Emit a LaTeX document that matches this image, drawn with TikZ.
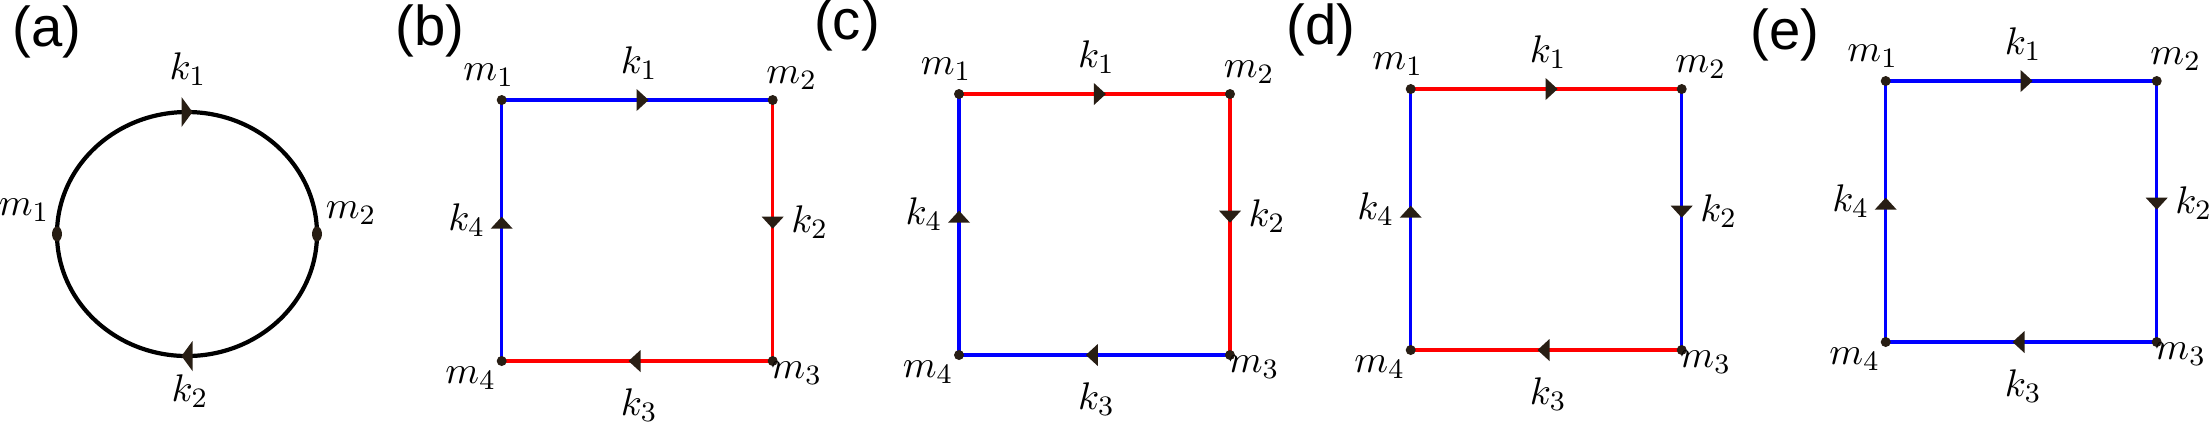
\documentclass[tikz,border=0pt]{standalone}
\usepackage{fontspec}
\usepackage{amsmath}
\usepackage{xcolor}
\usepackage{tikz}
\usetikzlibrary{calc,positioning,decorations.markings}
\newfontfamily\panelfont{Liberation Sans}
\definecolor{tipcol}{RGB}{40,30,20}

\begin{document}
\begin{tikzpicture}[
	%	style def
    scale=1,
    sq line/.style={line width=0.95pt},
    loop line/.style={line width=1.2pt, black},
    mid arrow/.style={postaction={decorate}, decoration={markings,
        mark=at position #1 with {\fill[tipcol] (-0.06,-0.11) -- (0.06,0) -- (-0.06,0.11) -- cycle;}}},
    big arrow/.style={postaction={decorate}, decoration={markings,
        mark=at position #1 with {\fill[tipcol] (-0.055,-0.15) -- (0.055,0) -- (-0.055,0.15) -- cycle;}}},
    lbl/.style={inner sep=0pt, font=\fontsize{11}{13}\selectfont},
    panel tag/.style={inner sep=0pt, font=\panelfont\fontsize{16}{19}\selectfont},
    every node/.style={color=black}
    ]
    \useasboundingbox (0,0) rectangle (22.09,-4.23);

	% (a) bubble with two vertices
    \coordinate (m1a) at (0.57,-2.34);
    \coordinate (m2a) at (3.17,-2.34);
    \draw[loop line, big arrow=0.5] (m1a) arc[start angle=180, end angle=0, x radius=1.30, y radius=1.22];
    \draw[loop line, big arrow=0.5] (m2a) arc[start angle=0, end angle=-180, x radius=1.30, y radius=1.22];
    \fill[tipcol]
        (m1a) ellipse[x radius=0.05, y radius=0.075]
        (m2a) ellipse[x radius=0.05, y radius=0.075];
    \node[panel tag] (taga) at (0.47,-0.32) {(a)};
    \node[lbl] (lm1a) at ([shift={(-0.33,0.24)}]m1a) {$m_1$};
    \node[lbl] (lm2a) at ([shift={(0.34,0.21)}]m2a) {$m_2$};
    \node[lbl] (lk1a) at (1.88,-0.69) {$k_1$};
    \node[lbl] (lk2a) at (1.90,-3.91) {$k_2$};

    % (b)-(e) boxes, colour of each side: top/right/bottom/left
    \foreach \px/\py/\ctop/\cright/\cbot/\cleft/\tag/\tx/\ty in {
        5.017/-1.00/blue/red/red/blue/b/4.30/-0.31,
        9.59/-0.94/red/red/blue/blue/c/8.47/-0.25,
        14.107/-0.89/red/blue/red/blue/d/13.21/-0.30,
        18.857/-0.81/blue/blue/blue/blue/e/17.85/-0.35}
    {
        \coordinate (m1\tag) at (\px,\py);
        \coordinate (m2\tag) at (\px+2.71,\py);
        \coordinate (m3\tag) at (\px+2.71,\py-2.61);
        \coordinate (m4\tag) at (\px,\py-2.61);
        \draw[sq line, \ctop, mid arrow=0.52] (m1\tag) -- (m2\tag);
        \draw[sq line, \cright, mid arrow=0.47] (m2\tag) -- (m3\tag);
        \draw[sq line, \cbot, mid arrow=0.51] (m3\tag) -- (m4\tag);
        \draw[sq line, \cleft, mid arrow=0.53] (m4\tag) -- (m1\tag);
        \fill[tipcol]
            (m1\tag) circle (0.05)
            (m2\tag) circle (0.05)
            (m3\tag) circle (0.05)
            (m4\tag) circle (0.05);
        \node[panel tag] (tag\tag) at (\tx,\ty) {(\tag)};
        \node[lbl] (lm1\tag) at ([shift={(-0.13,0.25)}]m1\tag) {$m_1$};
        \node[lbl] (lm2\tag) at ([shift={(0.19,0.22)}]m2\tag) {$m_2$};
        \node[lbl] (lm3\tag) at ([shift={(0.24,-0.12)}]m3\tag) {$m_3$};
        \node[lbl] (lm4\tag) at ([shift={(-0.31,-0.17)}]m4\tag) {$m_4$};
        \node[lbl] (lk1\tag) at ($(m1\tag)!0.5!(m2\tag)+(0.02,0.37)$) {$k_1$};
        \node[lbl] (lk2\tag) at ($(m2\tag)!0.5!(m3\tag)+(0.37,0.08)$) {$k_2$};
        \node[lbl] (lk3\tag) at ($(m3\tag)!0.5!(m4\tag)+(0.02,-0.44)$) {$k_3$};
        \node[lbl] (lk4\tag) at ($(m4\tag)!0.5!(m1\tag)+(-0.35,0.10)$) {$k_4$};
    }

\end{tikzpicture}
\end{document}
